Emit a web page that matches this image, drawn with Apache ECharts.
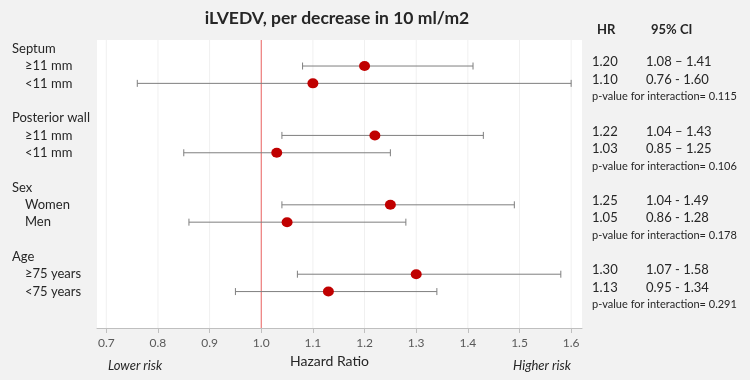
<!DOCTYPE html>
<html>
<head>
<meta charset="utf-8">
<script src="https://cdn.jsdelivr.net/npm/echarts@6/dist/echarts.min.js"></script>
<style>
  html, body { margin: 0; padding: 0; background: #f2f2f2; }
  #main { width: 750px; height: 380px; }
</style>
</head>
<body>
<div id="main"></div>
<script>
// data
const groups = ['Septum', 'Posterior wall', 'Sex', 'Age'];
const subgroups = [['≥11 mm', '<11 mm'], ['≥11 mm', '<11 mm'], ['Women', 'Men'], ['≥75 years', '<75 years']];
const hr = [1.20, 1.10, 1.22, 1.03, 1.25, 1.05, 1.30, 1.13];
const ciLow = [1.08, 0.76, 1.04, 0.85, 1.04, 0.86, 1.07, 0.95];
const ciHigh = [1.41, 1.60, 1.43, 1.25, 1.49, 1.28, 1.58, 1.34];
const hrText = ['1.20', '1.10', '1.22', '1.03', '1.25', '1.05', '1.30', '1.13'];
const ciText = ['1.08 – 1.41', '0.76 - 1.60', '1.04 – 1.43', '0.85 – 1.25', '1.04 - 1.49', '0.86 - 1.28', '1.07 - 1.58', '0.95 - 1.34'];
const pValues = ['0.115', '0.106', '0.178', '0.291'];
const xTicks = [0.7, 0.8, 0.9, 1.0, 1.1, 1.2, 1.3, 1.4, 1.5, 1.6];
const refValue = 1.0;

// each group takes 4 rows: header, two subgroups, p-value line
const leftLabels = {};
const rightLabels = {};
const points = [];
const bars = [];
groups.forEach((g, gi) => {
  const base = gi * 4;
  leftLabels[base] = '{g|' + g + '}';
  subgroups[gi].forEach((s, si) => {
    const row = base + 1 + si;
    const k = gi * 2 + si;
    leftLabels[row] = '{s|' + s + '}';
    rightLabels[row] = '{hr|' + hrText[k] + '}{ci|' + ciText[k] + '}';
    points.push([hr[k], row]);
    bars.push([row, ciLow[k], ciHigh[k]]);
  });
  rightLabels[base + 3] = '{p|p-value for interaction= ' + pValues[gi] + '}';
});
const leftRows = Object.keys(leftLabels).map(Number);
const rightRows = Object.keys(rightLabels).map(Number);

const FONT = 'Lato';
const TEXT = '#262626';
const Y_MIN = -0.5, Y_MAX = 16.1;
const chart = echarts.init(document.getElementById('main'));

// vertical line across the whole plot at x = value
function vLine(color) {
  return (params, api) => {
    const top = api.coord([api.value(0), Y_MIN]);
    const bottom = api.coord([api.value(0), Y_MAX]);
    return {
      type: 'line',
      shape: { x1: top[0], y1: top[1], x2: bottom[0], y2: bottom[1] },
      style: { stroke: color, lineWidth: 1 }
    };
  };
}

chart.setOption({
  backgroundColor: '#f2f2f2',
  animation: false,
  textStyle: { fontFamily: FONT },
  title: [
    {
      text: 'iLVEDV, per decrease in 10 ml/m2',
      left: 332, top: 4, textAlign: 'center',
      textStyle: { fontFamily: FONT, fontSize: 17.5, fontWeight: 'bold', color: TEXT }
    },
    { text: 'HR', left: 592, top: 18, textStyle: { fontFamily: FONT, fontSize: 13, fontWeight: 'bold', color: TEXT } },
    { text: '95% CI', left: 646, top: 18, textStyle: { fontFamily: FONT, fontSize: 13, fontWeight: 'bold', color: TEXT } },
    { text: 'Lower risk', left: 103, top: 354, textStyle: { fontFamily: FONT, fontSize: 13, fontStyle: 'italic', fontWeight: 'normal', color: TEXT } },
    { text: 'Higher risk', left: 508, top: 354, textStyle: { fontFamily: FONT, fontSize: 13, fontStyle: 'italic', fontWeight: 'normal', color: TEXT } }
  ],
  grid: {
    left: 97, right: 168, top: 40, bottom: 52,
    show: true, backgroundColor: '#ffffff', borderWidth: 0
  },
  xAxis: {
    type: 'value',
    min: 0.682, max: 1.621,
    name: 'Hazard Ratio',
    nameLocation: 'middle',
    nameGap: 26,
    nameTextStyle: { fontFamily: FONT, fontSize: 14, color: TEXT, padding: [0, 20, 0, 0] },
    axisLine: { show: true, onZero: false, lineStyle: { color: '#bfbfbf', width: 1 } },
    axisTick: { show: true, length: 5, lineStyle: { color: '#bfbfbf' }, customValues: xTicks },
    axisLabel: {
      customValues: xTicks,
      margin: 9,
      fontSize: 12,
      color: '#595959',
      formatter: v => v.toFixed(1)
    },
    splitLine: { show: false },
    minorSplitLine: { show: false }
  },
  yAxis: [
    {
      type: 'value', position: 'left', inverse: true,
      min: Y_MIN, max: Y_MAX,
      axisLine: { show: false, onZero: false }, axisTick: { show: false }, splitLine: { show: false },
      axisLabel: {
        customValues: leftRows,
        align: 'left',
        margin: 85,
        formatter: v => leftLabels[v] || '',
        rich: {
          g: { fontFamily: FONT, fontSize: 13, color: TEXT },
          s: { fontFamily: FONT, fontSize: 13, color: TEXT, padding: [0, 0, 0, 13] }
        }
      }
    },
    {
      type: 'value', position: 'right', inverse: true,
      min: Y_MIN, max: Y_MAX,
      axisLine: { show: false, onZero: false }, axisTick: { show: false }, splitLine: { show: false },
      axisLabel: {
        customValues: rightRows,
        align: 'left',
        margin: 10,
        formatter: v => rightLabels[v] || '',
        rich: {
          hr: { fontFamily: FONT, fontSize: 13, color: TEXT, width: 54, padding: [0, 0, 8, 0] },
          ci: { fontFamily: FONT, fontSize: 13, color: TEXT, padding: [0, 0, 8, 0] },
          p: { fontFamily: FONT, fontSize: 11, color: TEXT, padding: [0, 0, 8, 0] }
        }
      }
    }
  ],
  series: [
    {
      // faint vertical grid lines at the ticks
      type: 'custom',
      silent: true,
      z: 1,
      encode: { x: 0 },
      data: xTicks.filter(t => t !== refValue).map(t => [t]),
      renderItem: vLine('#f0f0f0')
    },
    {
      // reference line at HR = 1
      type: 'custom',
      silent: true,
      z: 2,
      encode: { x: 0 },
      data: [[refValue]],
      renderItem: vLine('#e8605e')
    },
    {
      type: 'custom',
      z: 3,
      encode: { x: [1, 2], y: 0 },
      data: bars,
      renderItem: (params, api) => {
        const y = api.value(0);
        const a = api.coord([api.value(1), y]);
        const b = api.coord([api.value(2), y]);
        const cap = 3.5;
        const style = { stroke: '#7f7f7f', lineWidth: 1 };
        return {
          type: 'group',
          children: [
            { type: 'line', shape: { x1: a[0], y1: a[1], x2: b[0], y2: b[1] }, style },
            { type: 'line', shape: { x1: a[0], y1: a[1] - cap, x2: a[0], y2: a[1] + cap }, style },
            { type: 'line', shape: { x1: b[0], y1: b[1] - cap, x2: b[0], y2: b[1] + cap }, style }
          ]
        };
      }
    },
    {
      type: 'scatter',
      z: 4,
      symbol: 'circle',
      symbolSize: [11, 10],
      itemStyle: { color: '#c00000', opacity: 1 },
      data: points
    }
  ]
});
</script>
</body>
</html>
